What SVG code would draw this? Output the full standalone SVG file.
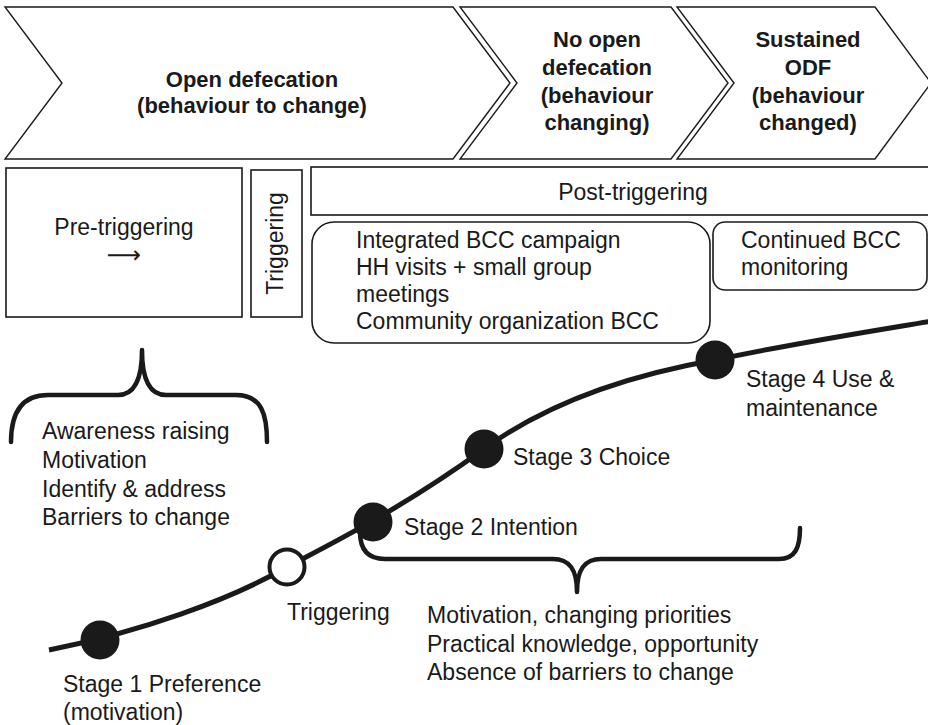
<svg xmlns="http://www.w3.org/2000/svg" width="928" height="725" viewBox="0 0 928 725">
  <style>
    .chev { fill: #ffffff; stroke: #1a1a1a; stroke-width: 1.4; stroke-linejoin: miter; }
    .box { fill: #ffffff; stroke: #1a1a1a; stroke-width: 1.6; }
    .head { font-family: "Liberation Sans", Arial, sans-serif; font-size: 22px; font-weight: bold; fill: #1a1a1a; text-anchor: middle; }
    .lbl { font-family: "Liberation Sans", Arial, sans-serif; font-size: 23px; fill: #1a1a1a; }
    .mid { text-anchor: middle; }
    .brace { fill: none; stroke: #1a1a1a; stroke-width: 4.5; stroke-linecap: round; stroke-linejoin: round; }
    .curve { fill: none; stroke: #1a1a1a; stroke-width: 5; stroke-linecap: butt; }
    .dot { fill: #1a1a1a; }
    .open { fill: #ffffff; stroke: #1a1a1a; stroke-width: 4; }
  </style>

  <rect width="928" height="725" fill="#ffffff"/>

  <!-- Phase chevrons -->
  <g id="phase-open-defecation">
    <polygon class="chev" points="5,7 453,7 510,83 453,159 5,159 62,83"/>
    <text class="head" x="252" y="87">Open defecation</text>
    <text class="head" x="252" y="113">(behaviour to change)</text>
  </g>
  <g id="phase-no-open-defecation">
    <polygon class="chev" points="460,7 671,7 728,83 671,159 460,159 517,83"/>
    <text class="head" x="597" y="47">No open</text>
    <text class="head" x="597" y="75">defecation</text>
    <text class="head" x="597" y="103">(behaviour</text>
    <text class="head" x="597" y="130">changing)</text>
  </g>
  <g id="phase-sustained-odf">
    <polygon class="chev" points="677,7 875,7 931,83 875,159 677,159 734,83"/>
    <text class="head" x="808" y="47">Sustained</text>
    <text class="head" x="808" y="75">ODF</text>
    <text class="head" x="808" y="103">(behaviour</text>
    <text class="head" x="808" y="130">changed)</text>
  </g>

  <!-- Intervention boxes -->
  <g id="box-pre-triggering">
    <rect class="box" x="6" y="168" width="236" height="149"/>
    <text class="lbl mid" x="124" y="235">Pre-triggering</text>
    <text class="lbl mid" x="124" y="263" style="font-family: 'DejaVu Sans', sans-serif; font-size: 24px;">⟶</text>
  </g>
  <g id="box-triggering">
    <rect class="box" x="251" y="170" width="51" height="147"/>
    <text class="lbl mid" transform="translate(283,243.5) rotate(-90)">Triggering</text>
  </g>
  <g id="box-post-triggering">
    <rect class="box" x="311" y="167" width="630" height="48"/>
    <text class="lbl mid" x="633" y="200">Post-triggering</text>
  </g>
  <g id="box-bcc-campaign">
    <rect class="box" x="312" y="222" width="398" height="121" rx="22" ry="22"/>
    <text class="lbl" x="356" y="248">Integrated BCC campaign</text>
    <text class="lbl" x="356" y="275">HH visits + small group</text>
    <text class="lbl" x="356" y="302">meetings</text>
    <text class="lbl" x="356" y="329">Community organization BCC</text>
  </g>
  <g id="box-continued-bcc">
    <rect class="box" x="713" y="222" width="214" height="68" rx="12" ry="12"/>
    <text class="lbl" x="741" y="248">Continued BCC</text>
    <text class="lbl" x="741" y="275">monitoring</text>
  </g>

  <!-- Braces grouping the supporting factors -->
  <g id="brace-pre-triggering">
    <path class="brace" d="M11,442 C11,415 20,395 48,395 L118,395 C134,395 142,380 142,350 C142,380 150,395 166,395 L236,395 C262,395 267,415 267,442"/>
    <text class="lbl" x="42" y="439">Awareness raising</text>
    <text class="lbl" x="42" y="468">Motivation</text>
    <text class="lbl" x="42" y="497">Identify &amp; address</text>
    <text class="lbl" x="42" y="525">Barriers to change</text>
  </g>
  <g id="brace-post-triggering">
    <path class="brace" d="M360,532 C360,550 368,559 385,559 L553,559 C570,559 577,570 577,592 C577,570 584,559 601,559 L779,559 C795,559 800,548 800,528"/>
    <text class="lbl" x="427" y="623">Motivation, changing priorities</text>
    <text class="lbl" x="427" y="652">Practical knowledge, opportunity</text>
    <text class="lbl" x="427" y="680">Absence of barriers to change</text>
  </g>

  <!-- Behaviour-change curve -->
  <g id="connectors">
    <path class="curve" d="M49,650 C140,632 230,600 287,567 C325,547 400,510 484,449 C550,401 630,375 715,360 C790,344 860,333 932,321"/>
  </g>

  <!-- Stages along the curve -->
  <g id="stage-1">
    <circle class="dot" cx="100" cy="640" r="19.5"/>
    <text class="lbl" x="63" y="692">Stage 1 Preference</text>
    <text class="lbl" x="63" y="720">(motivation)</text>
  </g>
  <g id="stage-triggering">
    <circle class="open" cx="287" cy="567" r="17.5"/>
    <text class="lbl" x="287" y="620">Triggering</text>
  </g>
  <g id="stage-2">
    <circle class="dot" cx="373" cy="522" r="19.5"/>
    <text class="lbl" x="404" y="535">Stage 2 Intention</text>
  </g>
  <g id="stage-3">
    <circle class="dot" cx="484" cy="449" r="19.5"/>
    <text class="lbl" x="513" y="465">Stage 3 Choice</text>
  </g>
  <g id="stage-4">
    <circle class="dot" cx="715" cy="360" r="19.5"/>
    <text class="lbl" x="746" y="387">Stage 4 Use &amp;</text>
    <text class="lbl" x="746" y="416">maintenance</text>
  </g>
</svg>
